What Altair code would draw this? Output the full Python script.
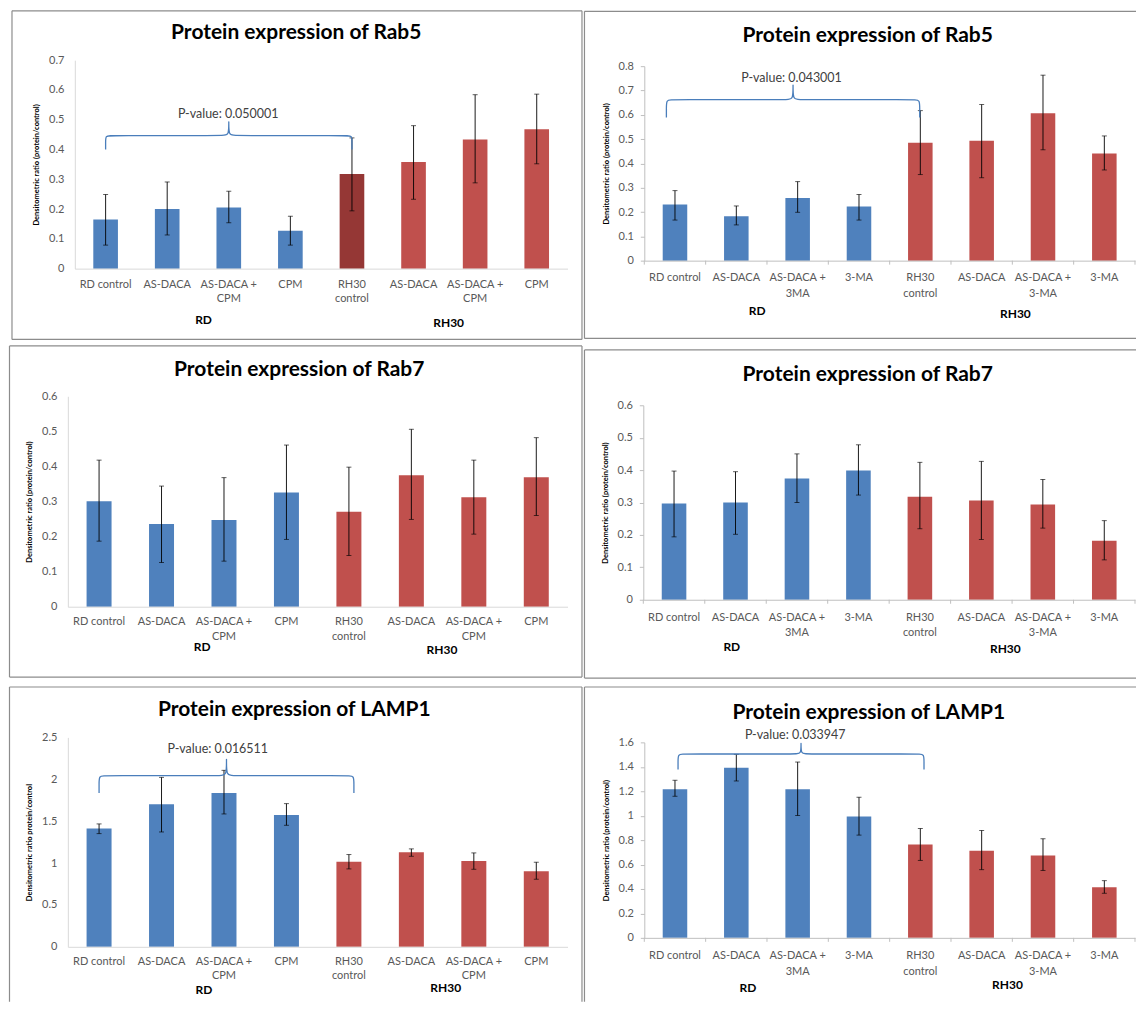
import json
import altair as alt
import pandas as pd

# ---------------- data ----------------
CATS_CPM = ["RD control", "AS-DACA", "AS-DACA +|CPM", "CPM",
            "RH30|control", "AS-DACA", "AS-DACA +|CPM", "CPM"]
CATS_3MA = ["RD control", "AS-DACA", "AS-DACA +|3MA", "3-MA",
            "RH30|control", "AS-DACA", "AS-DACA +|3-MA", "3-MA"]
GROUPS = ["RD", "RH30"]

SHADE_STD = ["RD", "RD", "RD", "RD", "RH30", "RH30", "RH30", "RH30"]
SHADE_P1 = ["RD", "RD", "RD", "RD", "RH30 control", "RH30", "RH30", "RH30"]

RAB5_CPM_MEAN = [0.165, 0.200, 0.205, 0.127, 0.318, 0.358, 0.434, 0.468]
RAB5_CPM_LO = [0.079, 0.113, 0.154, 0.079, 0.194, 0.233, 0.288, 0.352]
RAB5_CPM_HI = [0.249, 0.291, 0.260, 0.176, 0.439, 0.480, 0.584, 0.586]

RAB5_3MA_MEAN = [0.231, 0.183, 0.258, 0.223, 0.485, 0.493, 0.606, 0.441]
RAB5_3MA_LO = [0.167, 0.147, 0.199, 0.167, 0.354, 0.341, 0.456, 0.373]
RAB5_3MA_HI = [0.288, 0.225, 0.325, 0.272, 0.617, 0.642, 0.763, 0.513]

RAB7_CPM_MEAN = [0.301, 0.236, 0.247, 0.326, 0.271, 0.375, 0.312, 0.369]
RAB7_CPM_LO = [0.187, 0.126, 0.130, 0.192, 0.146, 0.249, 0.207, 0.260]
RAB7_CPM_HI = [0.418, 0.344, 0.368, 0.461, 0.398, 0.506, 0.418, 0.482]

RAB7_3MA_MEAN = [0.297, 0.300, 0.374, 0.399, 0.318, 0.306, 0.294, 0.182]
RAB7_3MA_LO = [0.194, 0.202, 0.300, 0.323, 0.219, 0.186, 0.221, 0.123]
RAB7_3MA_HI = [0.397, 0.395, 0.450, 0.478, 0.424, 0.427, 0.371, 0.244]

LAMP1_CPM_MEAN = [1.411, 1.701, 1.836, 1.574, 1.017, 1.129, 1.025, 0.902]
LAMP1_CPM_LO = [1.351, 1.371, 1.586, 1.451, 0.930, 1.081, 0.926, 0.807]
LAMP1_CPM_HI = [1.467, 2.023, 2.107, 1.709, 1.101, 1.169, 1.121, 1.010]

LAMP1_3MA_MEAN = [1.216, 1.393, 1.216, 0.993, 0.765, 0.713, 0.675, 0.414]
LAMP1_3MA_LO = [1.159, 1.284, 1.001, 0.841, 0.634, 0.558, 0.552, 0.365]
LAMP1_3MA_HI = [1.290, 1.502, 1.439, 1.151, 0.895, 0.879, 0.811, 0.468]

# significance braces: (start idx, end idx, base, top, peak, label, label x, label y)
BRACE_P1 = (0.0, 4.0, 0.40, 0.447, 0.495, "P-value: 0.050001", 1.99, 0.52)
BRACE_P2 = (-0.14, 3.99, 0.589, 0.662, 0.725, "P-value: 0.043001", 1.90, 0.752)
BRACE_P5 = (0.0, 4.08, 1.836, 2.043, 2.246, "P-value: 0.016511", 1.90, 2.36)
BRACE_P6 = (0.05, 4.06, 1.377, 1.505, 1.595, "P-value: 0.033947", 1.96, 1.66)

YT = "Densitometric ratio (protein/control)"
YT5 = "Densitometric ratio protein/control"

BLUE = "#4F81BD"
RED = "#C0504D"
DARKRED = "#953735"

# ---------------- layout (page pixels) ----------------
COL = [(8, 583), (583, 1137)]
ROW = [(8, 342), (342, 684), (684, 1003)]

LAYOUT = {
    1: dict(o=(74, 59), W=494, H=209, col=0, row=0,
            borders=[(11, 9.5, 11, 339), (11, 9.5, 582.5, 9.5), (582.5, 9.5, 582.5, 339), (11, 339, 582.5, 339)],
            title=(296, 32), groups=[(1.59, 320), (5.57, 322.7)], xpad=10, lh=14),
    2: dict(o=(644, 65), W=492, H=195, col=1, row=0,
            borders=[(584, 10, 584, 338), (584, 10, 1137, 10), (584, 338, 1137, 338)],
            title=(868, 34.3), groups=[(1.34, 310), (5.55, 314)], xpad=11, lh=16),
    3: dict(o=(67, 396), W=501, H=211, col=0, row=1,
            borders=[(8.5, 345.5, 8.5, 677.5), (8.5, 345.5, 582.5, 345.5), (582.5, 345.5, 582.5, 677.5), (8.5, 677.5, 582.5, 677.5)],
            title=(299, 370), groups=[(1.65, 647), (5.49, 650.7)], xpad=9, lh=15),
    4: dict(o=(643, 405), W=493, H=195, col=1, row=1,
            borders=[(584, 349.5, 584, 678.5), (584, 349.5, 1137, 349.5), (584, 678.5, 1137, 678.5)],
            title=(868, 375), groups=[(0.94, 647.3), (5.39, 649.3)], xpad=11.5, lh=15),
    5: dict(o=(67, 738), W=501, H=210, col=0, row=2,
            borders=[(8.5, 687.5, 8.5, 1003), (8.5, 687.5, 582.5, 687.5), (582.5, 687.5, 582.5, 1003)],
            title=(294, 710.7), groups=[(1.68, 991.7), (5.55, 989.7)], xpad=9, lh=14),
    6: dict(o=(644, 743), W=492, H=196, col=1, row=2,
            borders=[(584, 687.5, 584, 1003), (584, 687.5, 1137, 687.5)],
            title=(869, 713.3), groups=[(1.19, 989.7), (5.42, 986)], xpad=12, lh=15.5),
}

ONE = pd.DataFrame({"k": [0]})


def brace_points(x0, x1, yb, yt, yp):
    xm = (x0 + x1) / 2.0
    e = 0.08
    ym = (yb + yt) / 2.0
    pts = [(x0, yb), (x0, ym), (x0, yt), (x0 + e, yt), (xm - e, yt), (xm, yt),
           (xm, yp), (xm, yp), (xm, yt), (xm + e, yt), (x1 - e, yt), (x1, yt),
           (x1, ym), (x1, yb)]
    return pd.DataFrame({"bx": [p[0] for p in pts], "by": [p[1] for p in pts],
                         "seq": list(range(len(pts)))})


def panel(num, title, cats, mean, lo, hi, shades, ymax, ystep, ytitle, right, brace=None):
    L = LAYOUT[num]
    c0, c1 = COL[L["col"]]
    r0, r1 = ROW[L["row"]]
    VW, VH = c1 - c0, r1 - r0          # view = whole cell
    px, py = L["o"][0] - c0, L["o"][1] - r0   # plot origin inside the cell
    W, H = L["W"], L["H"]
    n = len(cats)
    df = pd.DataFrame({"idx": list(range(n)), "mean": mean, "lo": lo, "hi": hi, "shade": shades})

    yscale = alt.Scale(domain=[0, ymax], nice=False, zero=True, range=[py + H, py])
    band = alt.Scale(type="band", paddingInner=0.6, paddingOuter=0.3, range=[px, px + W])
    qscale = alt.Scale(domain=[-0.5, n - 0.5], nice=False, zero=False, range=[px, px + W])
    axis_col = "#BFBFBF" if right else "#D9D9D9"
    yvals = [round(i * ystep, 4) for i in range(int(round(ymax / ystep)) + 1)]
    labels_js = json.dumps(cats)

    xaxis = alt.Axis(title=None, labelExpr="split(" + labels_js + "[datum.value], '|')",
                     labelAngle=0, ticks=False, domainColor=axis_col, labelFontSize=11,
                     labelColor="#595959", labelPadding=L["xpad"], labelLineHeight=L["lh"],
                     grid=False, zindex=1, offset=-(VH - (py + H)))
    yaxis = alt.Axis(values=yvals, format="~g", title=ytitle, titleFontSize=7.5,
                     titleFontWeight="bold", titleColor="#000000", titleX=-38, titleY=py + H / 2,
                     titleBaseline="middle", ticks=right, tickSize=4, tickColor=axis_col,
                     domainColor=axis_col, labelFontSize=11, labelColor="#595959",
                     labelPadding=(7 if right else 11), grid=False, zindex=1, offset=-px)

    layers = []
    for (ax, ay, bx, by) in L["borders"]:
        layers.append(alt.Chart(ONE).mark_rule(color="#8C8C8C", strokeWidth=1.2).encode(
            x=alt.value(ax - c0), y=alt.value(ay - r0), x2=alt.value(bx - c0), y2=alt.value(by - r0)))

    tx, ty = L["title"]
    layers.append(alt.Chart(ONE).mark_text(text=title, font="Lato", fontSize=21, fontWeight="bold",
                                           color="#000000", align="center", baseline="middle").encode(
        x=alt.value(tx - c0), y=alt.value(ty - r0)))

    bars = alt.Chart(df).mark_bar().encode(
        x=alt.X("idx:O", scale=band, axis=xaxis),
        y=alt.Y("mean:Q", scale=yscale, axis=yaxis),
        color=alt.Color("shade:N", scale=alt.Scale(domain=["RD", "RH30", "RH30 control"],
                                                   range=[BLUE, RED, DARKRED]), legend=None))
    layers.append(bars)

    err = alt.Chart(df).mark_rule(color="#000000", strokeWidth=0.9).encode(
        x=alt.X("idx:O", scale=band, axis=None),
        y=alt.Y("lo:Q", scale=yscale, axis=yaxis), y2="hi:Q")
    cap_lo = alt.Chart(df).mark_tick(color="#000000", size=5, thickness=0.9).encode(
        x=alt.X("idx:O", scale=band, axis=None), y=alt.Y("lo:Q", scale=yscale, axis=yaxis))
    cap_hi = alt.Chart(df).mark_tick(color="#000000", size=5, thickness=0.9).encode(
        x=alt.X("idx:O", scale=band, axis=None), y=alt.Y("hi:Q", scale=yscale, axis=yaxis))
    layers += [err, cap_lo, cap_hi]

    if right:
        bdf = pd.DataFrame({"b": [i - 0.5 for i in range(n + 1)]})
        layers.append(alt.Chart(bdf).mark_rule(color=axis_col).encode(
            x=alt.X("b:Q", scale=qscale, axis=None), y=alt.value(py + H), y2=alt.value(py + H + 4)))

    if brace is not None:
        x0, x1, yb, ytop, yp, lab, lx, ly = brace
        pts = brace_points(x0, x1, yb, ytop, yp)
        layers.append(alt.Chart(pts).mark_line(interpolate="basis", color="#4A7EBB", strokeWidth=1.3).encode(
            x=alt.X("bx:Q", scale=qscale, axis=None),
            y=alt.Y("by:Q", scale=yscale, axis=yaxis),
            order=alt.Order("seq:Q")))
        tdf = pd.DataFrame({"lx": [lx], "ly": [ly], "lt": [lab]})
        layers.append(alt.Chart(tdf).mark_text(fontSize=12.5, color="#404040", font="Lato").encode(
            x=alt.X("lx:Q", scale=qscale, axis=None),
            y=alt.Y("ly:Q", scale=yscale, axis=yaxis),
            text="lt:N"))

    for g, (gx, gy) in zip(GROUPS, L["groups"]):
        gdf = pd.DataFrame({"gx": [gx], "g": [g]})
        layers.append(alt.Chart(gdf).mark_text(fontSize=12, fontWeight="bold", color="#000000",
                                               font="Lato", baseline="middle").encode(
            x=alt.X("gx:Q", scale=qscale, axis=None), y=alt.value(gy - r0), text="g:N"))

    return alt.layer(*layers).resolve_scale(x="independent").properties(width=VW, height=VH)


p1 = panel(1, "Protein expression of Rab5", CATS_CPM, RAB5_CPM_MEAN, RAB5_CPM_LO, RAB5_CPM_HI,
           SHADE_P1, 0.7, 0.1, YT, False, BRACE_P1)
p2 = panel(2, "Protein expression of Rab5", CATS_3MA, RAB5_3MA_MEAN, RAB5_3MA_LO, RAB5_3MA_HI,
           SHADE_STD, 0.8, 0.1, YT, True, BRACE_P2)
p3 = panel(3, "Protein expression of Rab7", CATS_CPM, RAB7_CPM_MEAN, RAB7_CPM_LO, RAB7_CPM_HI,
           SHADE_STD, 0.6, 0.1, YT, False)
p4 = panel(4, "Protein expression of Rab7", CATS_3MA, RAB7_3MA_MEAN, RAB7_3MA_LO, RAB7_3MA_HI,
           SHADE_STD, 0.6, 0.1, YT, True)
p5 = panel(5, "Protein expression of LAMP1", CATS_CPM, LAMP1_CPM_MEAN, LAMP1_CPM_LO, LAMP1_CPM_HI,
           SHADE_STD, 2.5, 0.5, YT5, False, BRACE_P5)
p6 = panel(6, "Protein expression of LAMP1", CATS_3MA, LAMP1_3MA_MEAN, LAMP1_3MA_LO, LAMP1_3MA_HI,
           SHADE_STD, 1.6, 0.2, YT, True, BRACE_P6)

chart = alt.vconcat(
    alt.hconcat(p1, p2, spacing=0),
    alt.hconcat(p3, p4, spacing=0),
    alt.hconcat(p5, p6, spacing=0),
    spacing=0,
).properties(padding=0, background="white").configure(font="Lato").configure_view(
    strokeWidth=0).configure_concat(spacing=0)

chart.save("out.html", embed_options={"renderer": "svg", "actions": False})
